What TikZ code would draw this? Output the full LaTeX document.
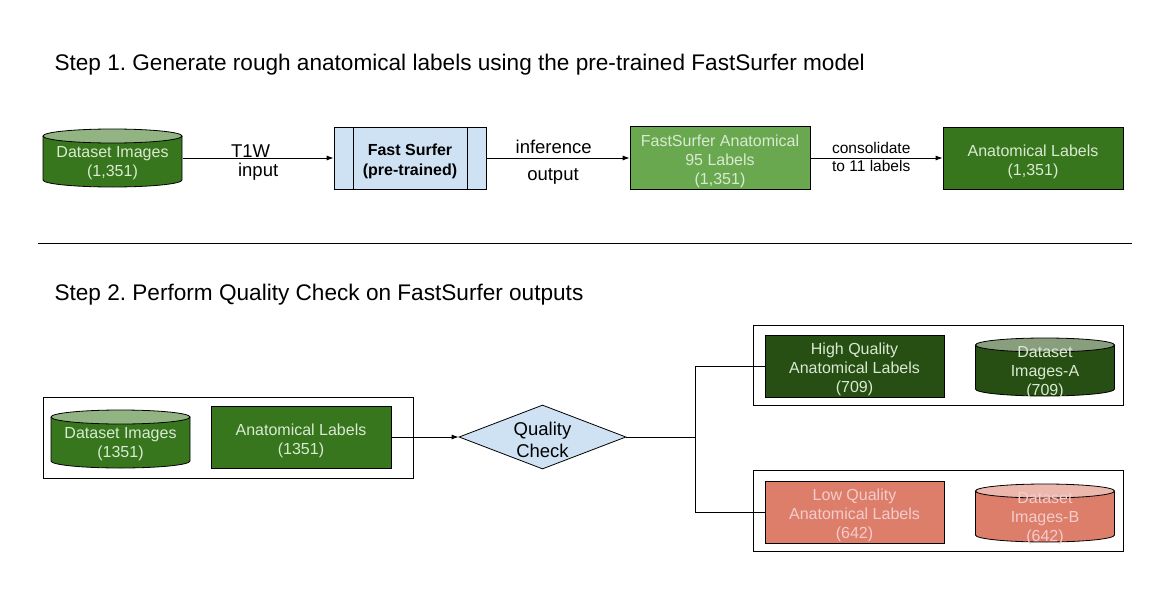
\documentclass[tikz,border=0pt]{standalone}
\usepackage{fontspec}
\setmainfont{Liberation Sans}
\frenchspacing
\usetikzlibrary{shapes.geometric, arrows.meta}
\definecolor{dkgreen}{HTML}{38761D}
\definecolor{dkgreenB}{HTML}{274E13}
\definecolor{midgreen}{HTML}{6AA84F}
\definecolor{paleblue}{HTML}{CFE2F3}
\definecolor{salmon}{HTML}{DD7E6B}
\definecolor{palegreen}{HTML}{D9EAD3}
\definecolor{palepink}{HTML}{F4CCCC}

\begin{document}
\begin{tikzpicture}[x=1pt, y=-1pt,
  conn/.style={line width=0.8pt},
  arr/.style={conn, -{Latex[length=7pt, width=5pt]}},
  box/.style={rectangle, draw, line width=0.8pt, inner sep=0pt},
  boxtext/.style={align=center, text=#1, font=\fontsize{16}{19}\selectfont},
  procbox/.style={box, fill=paleblue, path picture={
      \draw[line width=0.8pt] ([xshift=19pt]path picture bounding box.north west) -- ([xshift=19pt]path picture bounding box.south west)
        ([xshift=-19pt]path picture bounding box.north east) -- ([xshift=-19pt]path picture bounding box.south east);}},
  dbase/.style={rectangle, inner sep=0pt, minimum width=140pt, minimum height=59pt, path picture={
      \filldraw[line width=0.8pt, fill=#1] ([shift={(0.5pt,-7.5pt)}]path picture bounding box.north west)
        -- ([shift={(0.5pt,7.5pt)}]path picture bounding box.south west)
        arc[start angle=180, end angle=360, x radius=69.5pt, y radius=7pt]
        -- ([shift={(-0.5pt,-7.5pt)}]path picture bounding box.north east);
      \filldraw[line width=0.8pt, fill=#1!55!white] ([yshift=-7.5pt]path picture bounding box.north)
        ellipse[x radius=69.5pt, y radius=7pt];}},
  frame/.style={rectangle, draw, line width=0.8pt, inner sep=0pt},
  lbl/.style={font=\fontsize{18.5}{22}\selectfont, anchor=base},
  small/.style={font=\fontsize{15.5}{19}\selectfont, anchor=base},
  heading/.style={font=\fontsize{22.6}{27}\selectfont, anchor=west}]
\useasboundingbox (0,0) rectangle (1174,589);

% step 1
\node[heading] (title1) at (51,65) {Step 1. Generate rough anatomical labels using the pre-trained FastSurfer model};

\node[dbase=dkgreen, label={[boxtext=palegreen, yshift=-5pt]center:{Dataset Images\\(1,351)}}] (img1) at (112.5,158) {};
\node[procbox, minimum width=152pt, minimum height=62pt,
  label={[boxtext=black, font=\bfseries\fontsize{16}{20}\selectfont, yshift=-3.5pt]center:{Fast Surfer\\(pre-trained)}}] (fs) at (410,158) {};
\node[box, fill=midgreen, minimum width=180pt, minimum height=63pt,
  label={[boxtext=palegreen, yshift=-3pt]center:{FastSurfer Anatomical\\95 Labels\\(1,351)}}] (fsl) at (720,158) {};
\node[box, fill=dkgreen, minimum width=180pt, minimum height=62pt,
  label={[boxtext=palegreen, yshift=-3.5pt]center:{Anatomical Labels\\(1,351)}}] (al1) at (1033,158) {};

\draw[arr] (img1.east) -- (fs.west) node[lbl, pos=.45, yshift=1pt] {T1W} node[lbl, pos=.5, yshift=-18pt] {input};
\draw[arr] (fs.east) -- (fsl.west) node[lbl, pos=.47, yshift=5pt] {inference} node[lbl, pos=.465, yshift=-22pt] {output};
\draw[arr] (fsl.east) -- (al1.west) node[small, pos=.46, yshift=5pt] {consolidate} node[small, pos=.46, yshift=-13pt] {to 11 labels};

\draw[conn] (38,243) -- (1132,243);

% step 2
\node[heading] (title2) at (51,295) {Step 2. Perform Quality Check on FastSurfer outputs};

\node[frame, minimum width=370pt, minimum height=81pt] (grp) at (228,437.5) {};
\node[dbase=dkgreen, label={[boxtext=palegreen, yshift=-5pt]center:{Dataset Images\\(1351)}}] (img2) at (120.5,439) {};
\node[box, fill=dkgreen, minimum width=180pt, minimum height=62pt,
  label={[boxtext=palegreen, yshift=-3.5pt]center:{Anatomical Labels\\(1351)}}] (al2) at (301,437) {};
\node[diamond, draw, line width=0.8pt, fill=paleblue, aspect=2.6, minimum width=167pt, minimum height=64pt, inner sep=0pt,
  label={[boxtext=black, font=\fontsize{18.5}{22}\selectfont, yshift=-2.5pt]center:{Quality\\Check}}] (qc) at (542.5,437) {};
\coordinate (split) at (695,437);

\node[frame, minimum width=370pt, minimum height=80pt] (grpA) at (938,365) {};
\node[box, fill=dkgreenB, minimum width=179pt, minimum height=62pt,
  label={[boxtext=palegreen, yshift=-3pt]center:{High Quality\\Anatomical Labels\\(709)}}] (hq) at (854.5,366) {};
\node[dbase=dkgreenB, label={[boxtext=palegreen, yshift=-6pt]center:{Dataset\\Images-A\\(709)}}] (imgA) at (1045,367) {};

\node[frame, minimum width=370pt, minimum height=81pt] (grpB) at (938,510.5) {};
\node[box, fill=salmon, minimum width=179pt, minimum height=62pt,
  label={[boxtext=palepink, yshift=-3pt]center:{Low Quality\\Anatomical Labels\\(642)}}] (lq) at (854.5,512) {};
\node[dbase=salmon, label={[boxtext=palepink, yshift=-6pt]center:{Dataset\\Images-B\\(642)}}] (imgB) at (1045,513) {};

\draw[arr] (al2.east) -- (qc.west);
\draw[conn] (qc.east) -- (split) |- (hq.west);
\draw[conn] (split) |- (lq.west);
\end{tikzpicture}
\end{document}
